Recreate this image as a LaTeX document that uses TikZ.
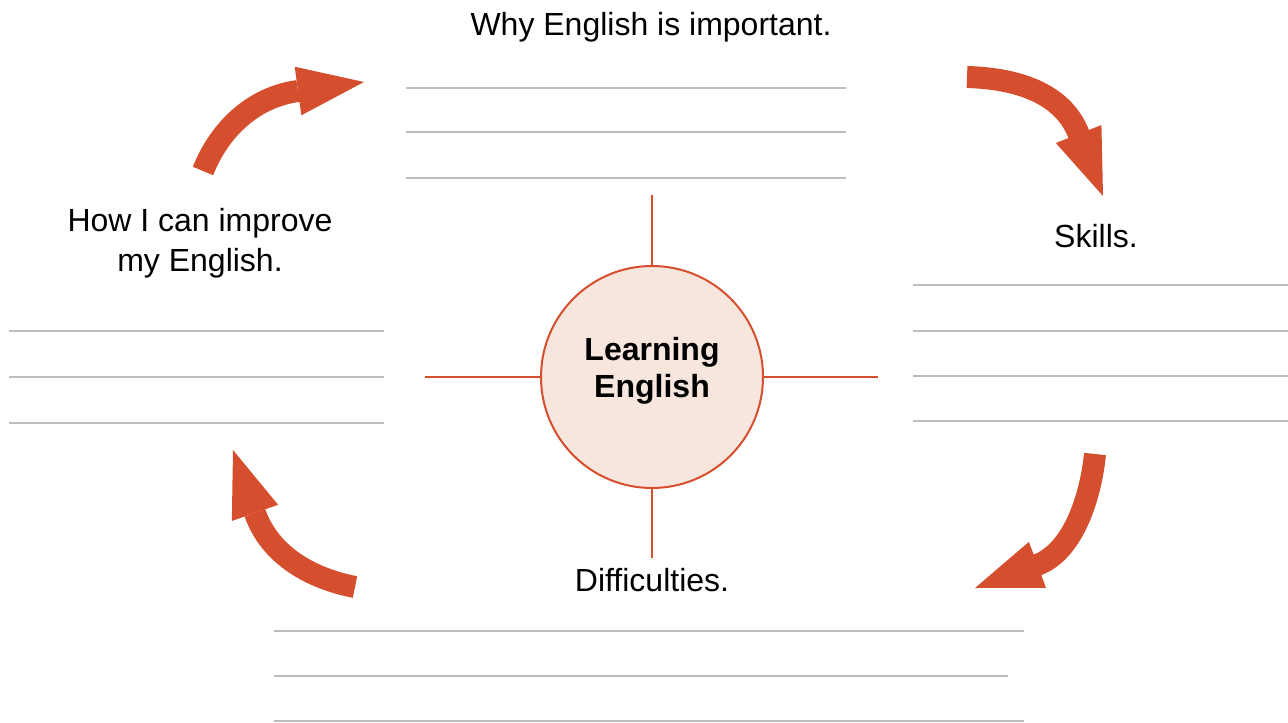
\documentclass[tikz,border=0pt]{standalone}
\usepackage{fontspec}
\setmainfont{Liberation Sans}
\usetikzlibrary{arrows.meta}

\definecolor{arrowred}{HTML}{D54F2E}
\definecolor{hubfill}{HTML}{F7E6DD}
\definecolor{rulegray}{HTML}{BDBDBD}

\tikzset{
  hub/.style={circle, draw=arrowred, line width=1pt, fill=hubfill, minimum size=111pt, inner sep=0pt},
  hubtext/.style={font=\bfseries\fontsize{16}{18.5}\selectfont, align=center},
  topic/.style={font=\fontsize{16}{20}\selectfont, align=center},
  spoke/.style={draw=arrowred, line width=1pt},
  writeline/.style={draw=rulegray, line width=0.75pt},
  cyclearrow/.style={draw=arrowred, line width=11pt, -{Triangle[length=33.3pt,width=24.5pt,line width=0pt]}}
}

\begin{document}
\begin{tikzpicture}[x=0.5pt, y=-0.5pt]
    \useasboundingbox (0,0) rectangle (1288,722);
    \node[hub] (hub) at (652,377) {};
    \node[hubtext] (learn) at ([yshift=3pt]hub.center) {Learning\\English};

    \node[topic, anchor=base] (why) at (651,36) {Why English is important.};
    \node[topic, anchor=base] (skills) at (1096,247) {Skills.};
    \node[topic] (improve) at (200,243) {How I can improve\\my English.};
    \node[topic, anchor=base] (diff) at (652,591) {Difficulties.};

    \coordinate (nend) at (652,195);
    \coordinate (send) at (652,558);
    \coordinate (wend) at (425,377);
    \coordinate (eend) at (878,377);
    \draw[spoke] (hub.north) -- (nend);
    \draw[spoke] (hub.south) -- (send);
    \draw[spoke] (hub.west) -- (wend);
    \draw[spoke] (hub.east) -- (eend);

    \foreach \y in {88,132,178}
      \draw[writeline] (406,\y) -- (846,\y);
    \foreach \y in {285,331,376,421}
      \draw[writeline] (913,\y) -- (1288,\y);
    \foreach \y in {331,377,423}
      \draw[writeline] (9,\y) -- (384,\y);
    \draw[writeline] (274,631) -- (1024,631);
    \draw[writeline] (274,676) -- (1008,676);
    \draw[writeline] (274,721) -- (1024,721);

    \draw[cyclearrow] (203,171) .. controls (219.6,129.1) and (253.4,97.1) .. (298,91) -- (364,82);
    \draw[cyclearrow] (967,77) .. controls (1015,78.4) and (1063,92) .. (1079,135) -- (1103,196);
    \draw[cyclearrow] (1095,454) .. controls (1091,494) and (1074.5,551) .. (1037,565) -- (975,588);
    \draw[cyclearrow] (355,587) .. controls (311,578.5) and (270,555.5) .. (255,513) -- (233,450);
\end{tikzpicture}
\end{document}
